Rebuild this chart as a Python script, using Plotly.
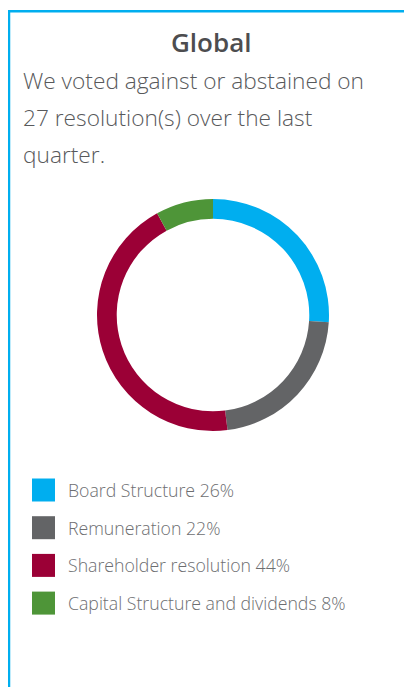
import plotly.graph_objects as go

categories = ["Board Structure", "Remuneration", "Shareholder resolution", "Capital Structure and dividends"]
shares = [26, 22, 44, 8]
colors = ["#00aeef", "#636466", "#9b0036", "#4e9538"]

title = "Global"
body_lines = ["We voted against or abstained on", "27 resolution(s) over the last", "quarter."]

W, H = 412, 687
OFF = 8  # page body margin shifts the figure by 8px


def px(x):
    return (x - OFF) / W


def py(y):
    return 1 - (y - OFF) / H


fig = go.Figure()

fig.add_trace(go.Pie(
    labels=categories,
    values=shares,
    hole=0.83,
    sort=False,
    direction="clockwise",
    rotation=0,
    marker=dict(colors=colors, line=dict(width=0)),
    textinfo="none",
    hoverinfo="label+percent",
    showlegend=False,
    domain=dict(x=[px(97), px(329)], y=[py(431), py(199)]),
))

shapes = [
    # card border (left and top edges visible)
    dict(type="line", xref="paper", yref="paper", x0=0, x1=0, y0=-0.05, y1=py(10),
         line=dict(color="#00aeef", width=4.5)),
    dict(type="line", xref="paper", yref="paper", x0=0, x1=1.05, y0=py(11.3), y1=py(11.3),
         line=dict(color="#00aeef", width=2.6)),
]

annotations = [
    dict(text=title, x=px(211), y=py(42), xref="paper", yref="paper",
         showarrow=False, xanchor="center", yanchor="middle",
         font=dict(family="Open Sans", size=26, color="#4d4d4f", weight=600)),
]

for i, line in enumerate(body_lines):
    annotations.append(dict(
        text=line, x=px(21), y=py(80 + i * 37.5), xref="paper", yref="paper",
        showarrow=False, xanchor="left", yanchor="middle",
        font=dict(family="Open Sans", size=22.7, color="#58595b", weight=300),
    ))

# legend drawn by hand: coloured squares + labels
for i, (cat, val, col) in enumerate(zip(categories, shares, colors)):
    yc = 490 + i * 37.7
    shapes.append(dict(type="rect", xref="paper", yref="paper",
                       x0=px(32), x1=px(55), y0=py(yc + 11.5), y1=py(yc - 11.5),
                       fillcolor=col, line=dict(width=0)))
    annotations.append(dict(
        text=f"{cat} {val}%", x=px(66), y=py(yc), xref="paper", yref="paper",
        showarrow=False, xanchor="left", yanchor="middle",
        font=dict(family="Open Sans", size=17.7, color="#6d6e71", weight=300),
    ))

fig.update_layout(
    width=W,
    height=H,
    margin=dict(l=0, r=0, t=0, b=0),
    paper_bgcolor="white",
    plot_bgcolor="white",
    shapes=shapes,
    annotations=annotations,
)

fig.write_html("out.html")
